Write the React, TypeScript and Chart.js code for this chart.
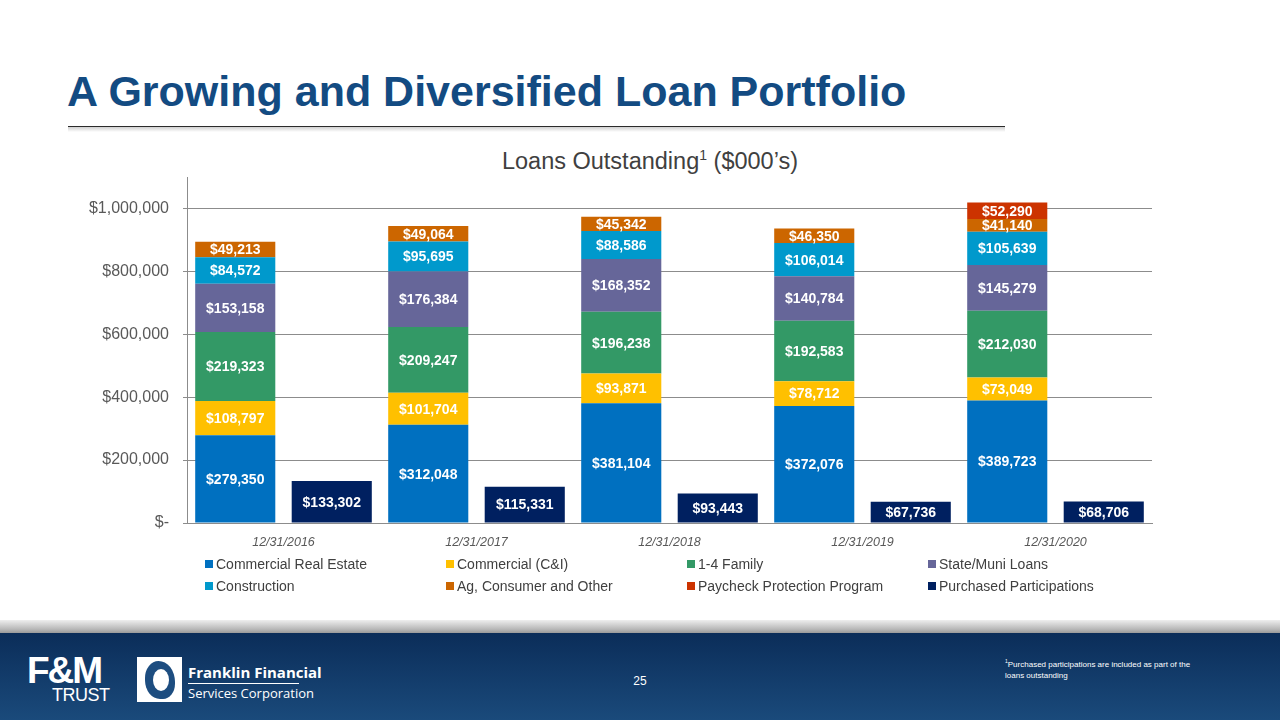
import React, { useEffect, useRef } from "react";
import { Chart, registerables } from "chart.js";

Chart.register(...registerables);

const categories = ["12/31/2016", "12/31/2017", "12/31/2018", "12/31/2019", "12/31/2020"];

const commercialRealEstate = [279350, 312048, 381104, 372076, 389723];
const commercialCI = [108797, 101704, 93871, 78712, 73049];
const oneToFourFamily = [219323, 209247, 196238, 192583, 212030];
const stateMuniLoans = [153158, 176384, 168352, 140784, 145279];
const construction = [84572, 95695, 88586, 106014, 105639];
const agConsumerOther = [49213, 49064, 45342, 46350, 41140];
const paycheckProtection = [null, null, null, null, 52290];
const purchasedParticipations = [133302, 115331, 93443, 67736, 68706];

const seriesNames = [
  "Commercial Real Estate",
  "Commercial (C&I)",
  "1-4 Family",
  "State/Muni Loans",
  "Construction",
  "Ag, Consumer and Other",
  "Paycheck Protection Program",
  "Purchased Participations",
];
const seriesColors = ["#0070C0", "#FFC000", "#339966", "#666699", "#0099CC", "#CC6600", "#CC3300", "#002060"];
const seriesStacks = ["main", "main", "main", "main", "main", "main", "main", "purchased"];
const seriesValues = [
  commercialRealEstate,
  commercialCI,
  oneToFourFamily,
  stateMuniLoans,
  construction,
  agConsumerOther,
  paycheckProtection,
  purchasedParticipations,
];

const yTickValues = [0, 200000, 400000, 600000, 800000, 1000000];
const yMax = 1100000;

const FONT = "'Liberation Sans', Arial, Helvetica, sans-serif";

const fmtMoney = (v: number) => "$" + v.toLocaleString("en-US");

const dataLabelPlugin = {
  id: "segmentLabels",
  afterDatasetsDraw(chart: any) {
    const ctx = chart.ctx;
    ctx.save();
    ctx.font = `bold 14px ${FONT}`;
    ctx.fillStyle = "#ffffff";
    ctx.textAlign = "center";
    ctx.textBaseline = "middle";
    chart.data.datasets.forEach((ds: any, i: number) => {
      const meta = chart.getDatasetMeta(i);
      if (meta.hidden) return;
      meta.data.forEach((bar: any, j: number) => {
        const v = ds.data[j];
        if (v == null) return;
        const { x, y, base } = bar.getProps(["x", "y", "base"], true);
        ctx.fillText(fmtMoney(v), x, (y + base) / 2 + 1);
      });
    });
    ctx.restore();
  },
};

const gridLegendPlugin = {
  id: "gridLegend",
  afterDraw(chart: any) {
    const ctx = chart.ctx;
    const colX = [205, 446, 687, 928];
    const rowY = [394, 416];
    ctx.save();
    ctx.font = `14px ${FONT}`;
    ctx.textBaseline = "middle";
    ctx.textAlign = "left";
    chart.data.datasets.forEach((ds: any, i: number) => {
      const x = colX[i % 4];
      const y = rowY[Math.floor(i / 4)];
      ctx.fillStyle = ds.backgroundColor;
      ctx.fillRect(x, y - 4, 8, 8);
      ctx.fillStyle = "#404040";
      ctx.fillText(ds.label, x + 11, y + 1);
    });
    ctx.restore();
  },
};

function LoanChart() {
  const canvasRef = useRef<HTMLCanvasElement | null>(null);
  useEffect(() => {
    if (!canvasRef.current) return;
    const chart = new Chart(canvasRef.current, {
      type: "bar",
      data: {
        labels: categories,
        datasets: seriesNames.map((name, i) => ({
          label: name,
          data: seriesValues[i] as any,
          backgroundColor: seriesColors[i],
          borderWidth: 0,
          stack: seriesStacks[i],
          categoryPercentage: 1.0,
          barPercentage: 0.83,
        })),
      },
      options: {
        animation: false,
        responsive: false,
        maintainAspectRatio: false,
        layout: { padding: { top: 7, right: 128, left: 0, bottom: 0 } },
        plugins: {
          legend: { display: false },
          tooltip: { enabled: false },
          title: { display: false },
        },
        scales: {
          x: {
            stacked: true,
            grid: { display: false, drawTicks: false },
            border: { display: true, color: "#8c8c8c", width: 1 },
            ticks: {
              color: "#595959",
              font: { family: FONT, size: 12.5, style: "italic" },
              padding: 12,
              maxRotation: 0,
              autoSkip: false,
            },
            afterFit: (scale: any) => {
              scale.height = 77;
              scale.paddingLeft = 0;
              scale.paddingRight = 0;
            },
          },
          y: {
            stacked: true,
            min: 0,
            max: yMax,
            ticks: {
              color: "#595959",
              font: { family: FONT, size: 16 },
              padding: 14,
              autoSkip: false,
              callback: (v: any) => (Number(v) === 0 ? "$-" : fmtMoney(Number(v))),
            },
            afterBuildTicks: (scale: any) => {
              scale.ticks = yTickValues.map((v) => ({ value: v }));
            },
            grid: { color: "#8c8c8c", lineWidth: 1, drawTicks: true, tickLength: 4 },
            border: { display: true, color: "#8c8c8c", width: 1 },
            afterFit: (scale: any) => {
              scale.width = 187;
              scale.paddingTop = 0;
              scale.paddingBottom = 0;
            },
          },
        },
      },
      plugins: [dataLabelPlugin, gridLegendPlugin],
    } as any);
    return () => chart.destroy();
  }, []);
  return <canvas ref={canvasRef} width={1280} height={430} style={{ display: "block", width: 1280, height: 430 }} />;
}

export default function App() {
  return (
    <div
      style={{
        position: "fixed",
        left: 0,
        top: 0,
        width: 1280,
        height: 720,
        background: "#ffffff",
        overflow: "hidden",
        fontFamily: FONT,
      }}
    >
      <div
        style={{
          position: "absolute",
          left: 67,
          top: 70,
          fontSize: 43,
          lineHeight: "43px",
          fontWeight: "bold",
          color: "#134b82",
          whiteSpace: "nowrap",
        }}
      >
        A Growing and Diversified Loan Portfolio
      </div>
      <div style={{ position: "absolute", left: 68, top: 126, width: 937, height: 1, background: "#2b2b2b" }} />
      <div
        style={{
          position: "absolute",
          left: 68,
          top: 127,
          width: 937,
          height: 5,
          background: "linear-gradient(#d0d0d0, rgba(255,255,255,0))",
        }}
      />
      <div
        style={{
          position: "absolute",
          left: 0,
          width: 1300,
          top: 147,
          textAlign: "center",
          fontSize: 23.5,
          lineHeight: "28px",
          color: "#404040",
          whiteSpace: "nowrap",
        }}
      >
        Loans Outstanding<sup style={{ fontSize: 14, verticalAlign: "9px", lineHeight: 0 }}>1</sup> ($000’s)
      </div>
      <div style={{ position: "absolute", left: 0, top: 170, width: 1280, height: 430 }}>
        <LoanChart />
      </div>
      {/* footer */}
      <div
        style={{
          position: "absolute",
          left: 0,
          top: 620,
          width: 1280,
          height: 13,
          background: "linear-gradient(#eeeeee, #b8b8b8 70%, #9a9a9a)",
        }}
      />
      <div
        style={{
          position: "absolute",
          left: 0,
          top: 633,
          width: 1280,
          height: 87,
          background: "linear-gradient(#0b2d59, #1a4a7b)",
        }}
      />
      <div
        style={{
          position: "absolute",
          left: 27,
          top: 652,
          color: "#ffffff",
          fontFamily: "'Liberation Sans Narrow', 'Liberation Sans', Arial, sans-serif",
          fontWeight: "bold",
          fontSize: 37,
          lineHeight: "37px",
          letterSpacing: -2,
        }}
      >
        F&amp;M
      </div>
      <div
        style={{
          position: "absolute",
          left: 52,
          top: 686,
          color: "#ffffff",
          fontFamily: "'Liberation Sans Narrow', 'Liberation Sans', Arial, sans-serif",
          fontSize: 18,
          lineHeight: "18px",
          letterSpacing: -0.5,
        }}
      >
        TRUST
      </div>
      <div
        style={{
          position: "absolute",
          left: 137,
          top: 657,
          width: 45,
          height: 45,
          background: "#ffffff",
          overflow: "hidden",
        }}
      >
        <div
          style={{
            position: "absolute",
            left: 8,
            top: 4,
            width: 30,
            height: 38,
            borderRadius: "45% 55% 40% 50%",
            background: "#1d4d80",
          }}
        />
        <div
          style={{
            position: "absolute",
            left: 16,
            top: 12,
            width: 16,
            height: 22,
            borderRadius: "50%",
            background: "#ffffff",
          }}
        />
      </div>
      <div
        style={{
          position: "absolute",
          left: 188,
          top: 663,
          color: "#ffffff",
          fontWeight: "bold",
          fontSize: 15,
          lineHeight: "18px",
          whiteSpace: "nowrap",
          fontFamily: "'Open Sans', 'Liberation Sans', sans-serif",
        }}
      >
        Franklin Financial
      </div>
      <div style={{ position: "absolute", left: 188, top: 683, width: 111, height: 1, background: "#ffffff" }} />
      <div
        style={{
          position: "absolute",
          left: 188,
          top: 685,
          color: "#ffffff",
          fontSize: 13,
          lineHeight: "17px",
          whiteSpace: "nowrap",
          fontFamily: "'Open Sans', 'Liberation Sans', sans-serif",
        }}
      >
        Services Corporation
      </div>
      <div
        style={{
          position: "absolute",
          left: 620,
          width: 40,
          top: 674,
          textAlign: "center",
          color: "#ffffff",
          fontSize: 12,
          lineHeight: "14px",
        }}
      >
        25
      </div>
      <div
        style={{
          position: "absolute",
          left: 1005,
          top: 659,
          width: 250,
          color: "#ffffff",
          fontSize: 8,
          lineHeight: "11px",
        }}
      >
        <sup style={{ fontSize: 5, lineHeight: 0 }}>1</sup>Purchased participations are included as part of the
        <br />
        loans outstanding
      </div>
    </div>
  );
}
